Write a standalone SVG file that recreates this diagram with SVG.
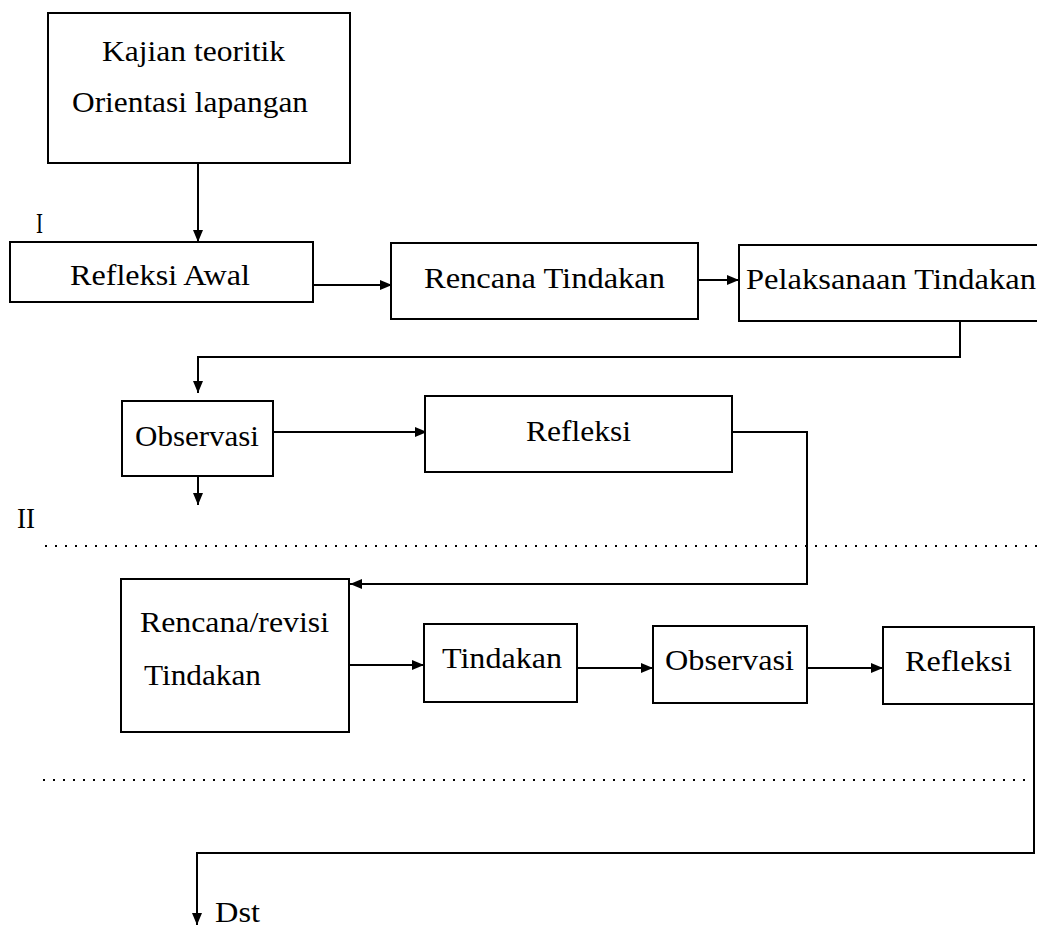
<svg xmlns="http://www.w3.org/2000/svg" width="1037" height="928" viewBox="0 0 1037 928">
<style>
.box{fill:#fff;stroke:#000;stroke-width:2}
.t{font-family:"Liberation Serif","Times New Roman",serif;font-size:30px;fill:#000}
.c{fill:none;stroke:#000;stroke-width:2}
.dot{fill:none;stroke:#000;stroke-width:1.8;stroke-dasharray:2 8}
</style>
<defs>
<marker id="ah" markerUnits="userSpaceOnUse" markerWidth="12" markerHeight="10" refX="12" refY="5" orient="auto">
<path d="M0,0 L12,5 L0,10 z" fill="#000"/>
</marker>
</defs>
<rect width="1037" height="928" fill="#fff"/>
<g id="separators">
<text class="t" x="36" y="233" textLength="7" lengthAdjust="spacingAndGlyphs">I</text>
<text class="t" x="17" y="528" textLength="18" lengthAdjust="spacingAndGlyphs">II</text>
<line class="dot" x1="45" y1="546" x2="1037" y2="546"/>
<line class="dot" x1="43" y1="780" x2="1037" y2="780"/>
</g>
<g id="connectors">
<path class="c" d="M198,163 V242" marker-end="url(#ah)"/>
<path class="c" d="M313,285 H392" marker-end="url(#ah)"/>
<path class="c" d="M698,280 H739" marker-end="url(#ah)"/>
<path class="c" d="M960,321 V357 H198 V393" marker-end="url(#ah)"/>
<path class="c" d="M198,468 V505" marker-end="url(#ah)"/>
<path class="c" d="M273,432 H427" marker-end="url(#ah)"/>
<path class="c" d="M732,432 H807 V584 H350" marker-end="url(#ah)"/>
<path class="c" d="M349,665 H424" marker-end="url(#ah)"/>
<path class="c" d="M577,668 H653" marker-end="url(#ah)"/>
<path class="c" d="M807,668 H883" marker-end="url(#ah)"/>
<path class="c" d="M1034,704 V853 H197 V925" marker-end="url(#ah)"/>
<text class="t" x="215" y="922" textLength="45" lengthAdjust="spacingAndGlyphs">Dst</text>
</g>
<g id="kajian">
<rect class="box" x="48" y="13" width="302" height="150"/>
<text class="t" x="102" y="61" textLength="183" lengthAdjust="spacingAndGlyphs">Kajian teoritik</text>
<text class="t" x="72" y="112" textLength="236" lengthAdjust="spacingAndGlyphs">Orientasi lapangan</text>
</g>
<g id="refleksi-awal">
<rect class="box" x="10" y="242" width="303" height="60"/>
<text class="t" x="70" y="285" textLength="180" lengthAdjust="spacingAndGlyphs">Refleksi Awal</text>
</g>
<g id="rencana-tindakan">
<rect class="box" x="391" y="243" width="307" height="76"/>
<text class="t" x="424" y="288" textLength="241" lengthAdjust="spacingAndGlyphs">Rencana Tindakan</text>
</g>
<g id="pelaksanaan-tindakan">
<path class="box" d="M1040,245 H739 V321 H1040"/>
<text class="t" x="746" y="289" textLength="290" lengthAdjust="spacingAndGlyphs">Pelaksanaan Tindakan</text>
</g>
<g id="observasi-1">
<rect class="box" x="122" y="401" width="151" height="75"/>
<text class="t" x="135" y="446" textLength="124" lengthAdjust="spacingAndGlyphs">Observasi</text>
</g>
<g id="refleksi-1">
<rect class="box" x="425" y="396" width="307" height="76"/>
<text class="t" x="526" y="441" textLength="105" lengthAdjust="spacingAndGlyphs">Refleksi</text>
</g>
<g id="rencana-revisi">
<rect class="box" x="121" y="579" width="228" height="153"/>
<text class="t" x="140" y="632" textLength="189" lengthAdjust="spacingAndGlyphs">Rencana/revisi</text>
<text class="t" x="144" y="685" textLength="117" lengthAdjust="spacingAndGlyphs">Tindakan</text>
</g>
<g id="tindakan">
<rect class="box" x="424" y="624" width="153" height="78"/>
<text class="t" x="442" y="668" textLength="120" lengthAdjust="spacingAndGlyphs">Tindakan</text>
</g>
<g id="observasi-2">
<rect class="box" x="653" y="626" width="154" height="77"/>
<text class="t" x="665" y="670" textLength="129" lengthAdjust="spacingAndGlyphs">Observasi</text>
</g>
<g id="refleksi-2">
<rect class="box" x="883" y="627" width="151" height="77"/>
<text class="t" x="905" y="671" textLength="107" lengthAdjust="spacingAndGlyphs">Refleksi</text>
</g>
</svg>
